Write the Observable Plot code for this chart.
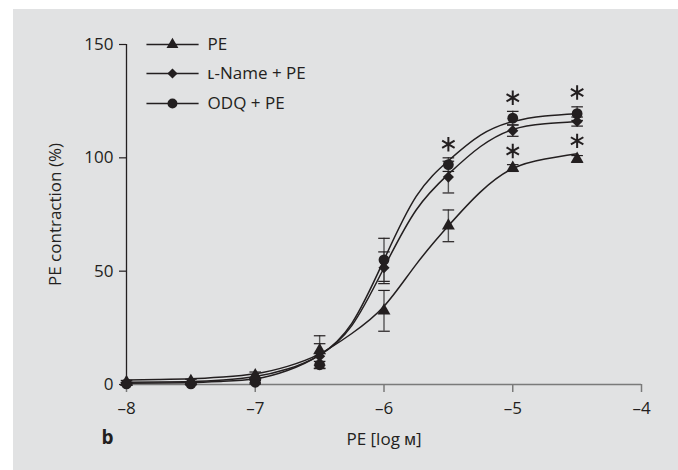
<!DOCTYPE html>
<html>
<head>
<meta charset="utf-8">
<script src="https://cdn.jsdelivr.net/npm/d3@7"></script>
<script src="https://cdn.jsdelivr.net/npm/@observablehq/plot@0.6"></script>
<style>
  html, body { margin: 0; padding: 0; background: #ffffff; }
  #panel { position: absolute; left: 13px; top: 9px; width: 665px; height: 461px; background: #e1e2e3; }
  svg { font-family: "Open Sans", sans-serif; }
</style>
</head>
<body>
<div id="panel"></div>
<script>
// ---- Data ----
const doses = [-8, -7.5, -7, -6.5, -6, -5.5, -5, -4.5];           // log M
const pe      = [1.0, 1.5, 4.0, 15.0, 32.5, 70.0, 95.5, 99.5];
const peErr   = [0.8, 0.8, 1.5, 6.5, 9.0, 7.0, 1.5, 1.5];
const lname   = [0.5, 0.5, 1.5, 12.5, 51.5, 91.5, 112.0, 116.0];
const lnameErr= [0.5, 0.5, 0.8, 5.5, 7.0, 7.0, 2.5, 2.0];
const odq     = [0.3, 0.3, 1.0, 8.7, 55.0, 97.0, 117.5, 119.5];
const odqErr  = [0.5, 0.5, 0.8, 1.5, 9.5, 3.0, 3.0, 3.0];

// fitted curves
const fitX      = [-8, -7.75, -7.5, -7.25, -7, -6.75, -6.5, -6.25, -6, -5.75, -5.5, -5.25, -5, -4.75, -4.5];
const peFit     = [2.0, 2.2, 2.5, 3.3, 4.7, 8.0, 13.5, 22.5, 34.5, 53.0, 70.0, 85.0, 95.3, 99.5, 101.8];
const lnameFit  = [1.0, 1.1, 1.3, 2.0, 3.5, 6.8, 13.0, 26.0, 51.5, 77.0, 92.8, 105.0, 112.5, 115.0, 116.0];
const odqFit    = [0.6, 0.7, 0.9, 1.4, 2.5, 6.2, 13.0, 27.0, 55.0, 83.0, 98.7, 110.0, 116.0, 118.5, 119.5];

// significance asterisks
const starX = [-5.5, -5, -5, -4.5, -4.5];
const starY = [106, 126.5, 103, 128.8, 107.5];

const seriesNames = ["PE", "ʟ-Name + PE", "ODQ + PE"];
const symbols = ["triangle", "diamond2", "circle"];
const xTicks = [-8, -7, -6, -5, -4];
const yTicks = [0, 50, 100, 150];

// ---- build tables ----
const means = [pe, lname, odq], errs = [peErr, lnameErr, odqErr], fits = [peFit, lnameFit, odqFit];
const points = [], curves = [];
seriesNames.forEach((s, i) => {
  doses.forEach((x, j) => points.push({series: s, sym: symbols[i], x, y: means[i][j], e: errs[i][j]}));
  fitX.forEach((x, j) => curves.push({series: s, x, y: fits[i][j]}));
});
const stars = starX.map((x, i) => ({x, y: starY[i]}));

// legend layout (positions in the plot's data space)
const legX1 = -7.845, legX2 = -7.44, legXm = -7.643, legXt = -7.37;
const legY = [150, 137.2, 124];
const legend = seriesNames.map((s, i) => ({series: s, sym: symbols[i], y: legY[i]}));

const ink = "#231f20";
const capW = 0.045;
const fs = 17;
const rOf = d => d.sym === "triangle" ? 4.8 : d.sym === "circle" ? 5.4 : 5.0;

const chart = Plot.plot({
  width: 665,
  height: 461,
  marginLeft: 113,
  marginRight: 37,
  marginTop: 35,
  marginBottom: 86,
  style: {background: "transparent", fontFamily: "'Open Sans', sans-serif"},
  x: {domain: [-8, -4], inset: 0},
  y: {domain: [0, 150], inset: 0},
  r: {type: "identity"},
  symbol: {domain: symbols, range: symbols},
  marks: [
    Plot.ruleY([0], {stroke: "#7a7a7a", strokeWidth: 1.5}),
    Plot.ruleX([-8], {stroke: ink, strokeWidth: 1.3}),
    Plot.axisY({ticks: yTicks, tickSize: 7, tickPadding: 6, label: null, fontSize: fs, stroke: ink, strokeWidth: 1.2, fill: ink}),
    Plot.axisX({ticks: xTicks, tickSize: 8, tickPadding: 9, label: null, fontSize: fs, tickFormat: d => d3.format("")(d).replace("-", "–").replace("−", "–"), stroke: "#7a7a7a", strokeWidth: 1.5, fill: ink}),
    Plot.text(["PE contraction (%)"], {frameAnchor: "left", textAnchor: "middle", dx: -71, rotate: -90, fontSize: fs, fill: ink}),
    Plot.text(["PE [log ᴍ]"], {frameAnchor: "bottom", textAnchor: "middle", dy: 60, fontSize: fs, fill: ink}),
    Plot.text(["b"], {frameAnchor: "bottom-left", textAnchor: "middle", dx: -19, dy: 59, fontSize: 19, fontWeight: "bold", fill: ink}),
    Plot.line(curves, {x: "x", y: "y", z: "series", curve: "natural", stroke: ink, strokeWidth: 1.5}),
    Plot.ruleX(points, {x: "x", y1: d => d.y - d.e, y2: d => d.y + d.e, stroke: "#555", strokeWidth: 1.4}),
    Plot.link(points, {x1: d => d.x - capW, x2: d => d.x + capW, y1: d => d.y + d.e, y2: d => d.y + d.e, stroke: ink, strokeWidth: 1.2}),
    Plot.link(points, {x1: d => d.x - capW, x2: d => d.x + capW, y1: d => d.y - d.e, y2: d => d.y - d.e, stroke: ink, strokeWidth: 1.2}),
    Plot.dot(points, {x: "x", y: "y", symbol: "sym", r: rOf, fill: ink, stroke: "none"}),
    Plot.dot(stars, {x: "x", y: "y", symbol: "asterisk", r: 6.8, stroke: ink, strokeWidth: 2}),
    // legend
    Plot.link(legend, {x1: () => legX1, x2: () => legX2, y1: "y", y2: "y", stroke: ink, strokeWidth: 1.5}),
    Plot.dot(legend, {x: () => legXm, y: "y", symbol: "sym", r: d => rOf(d) * 0.92, fill: ink, stroke: "none"}),
    Plot.text(legend, {x: () => legXt, y: "y", text: "series", textAnchor: "start", fontSize: fs, fill: ink})
  ]
});
document.getElementById("panel").appendChild(chart);
</script>
</body>
</html>
